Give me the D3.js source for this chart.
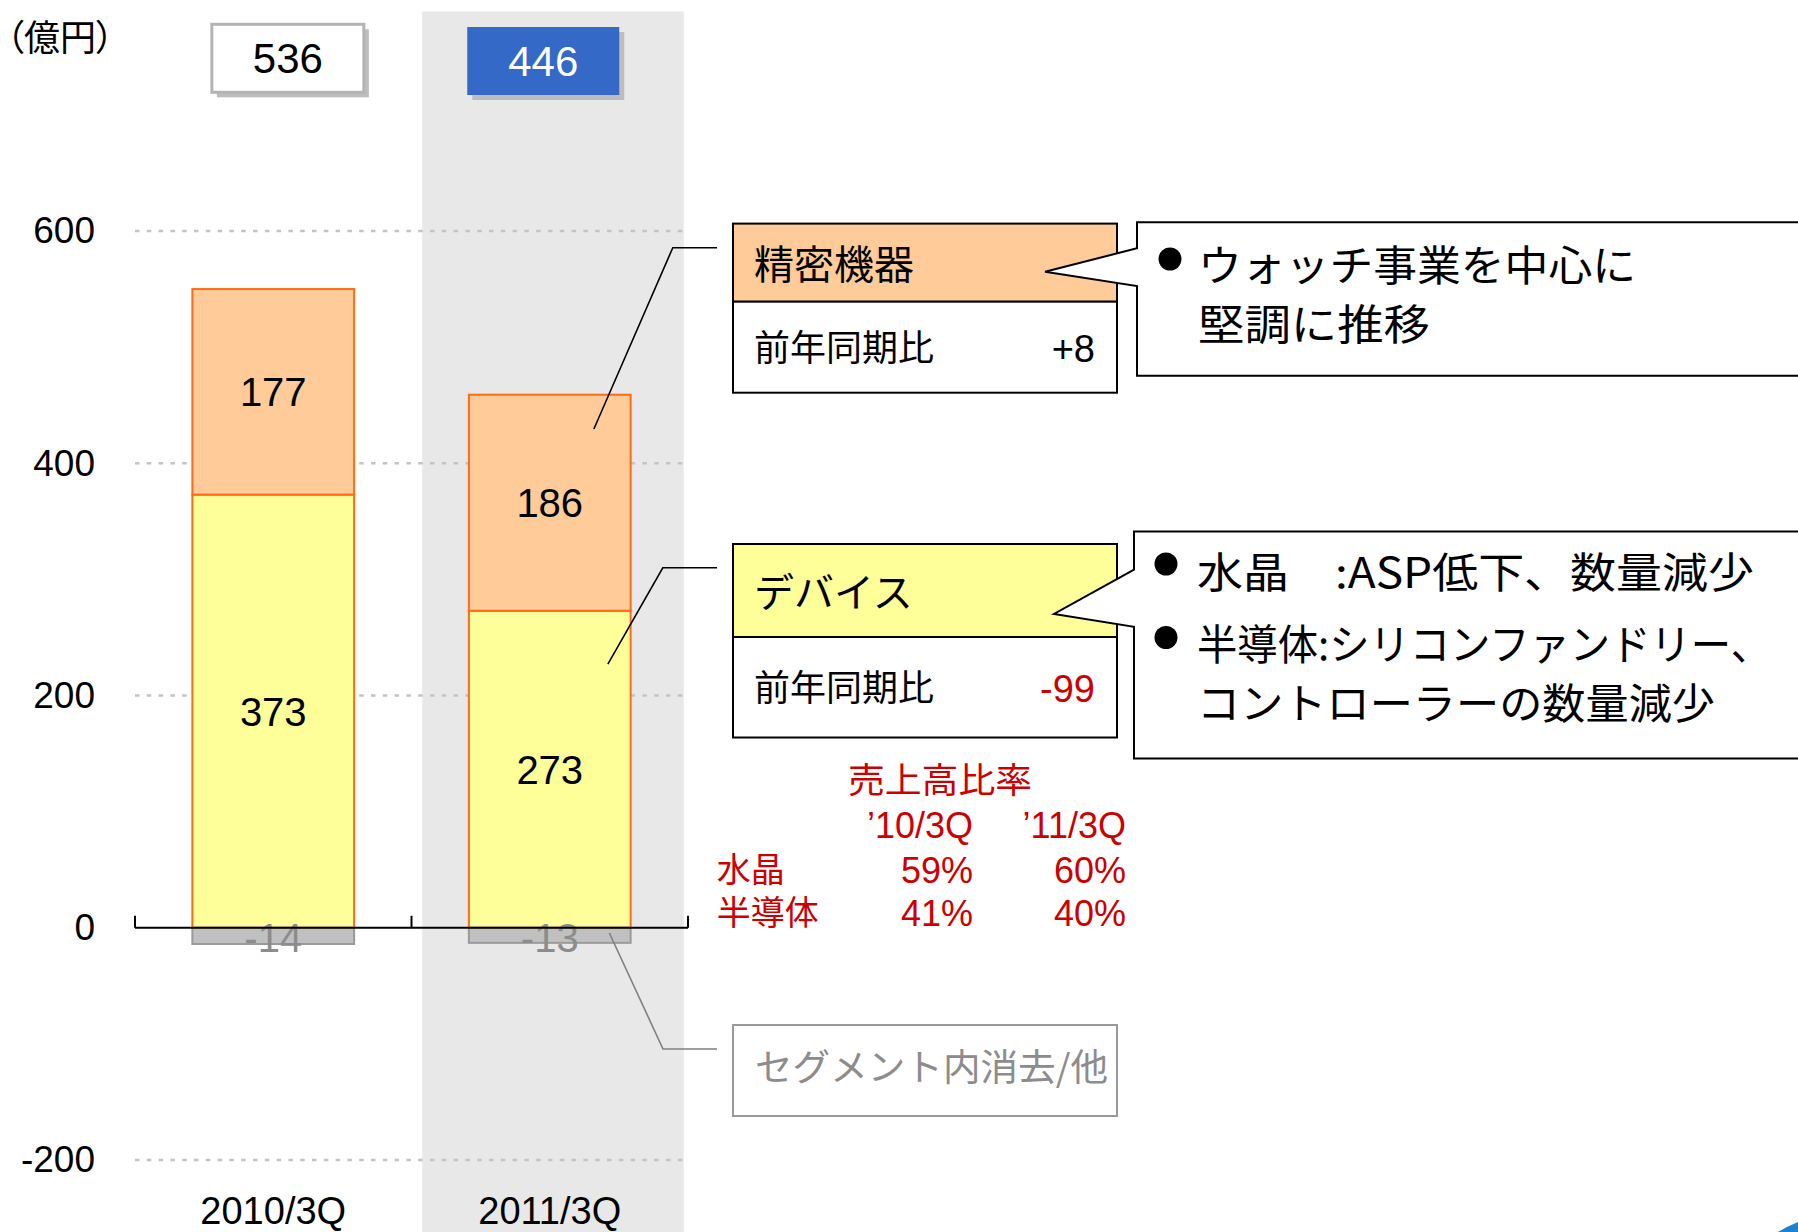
<!DOCTYPE html>
<html><head><meta charset="utf-8">
<script src="https://cdn.jsdelivr.net/npm/d3@7"></script>
<style>
html,body{margin:0;padding:0;background:#fff;}
svg{display:block;}
.num{font-family:"Liberation Sans",Arial,sans-serif;}
.jp{font-family:"Noto Sans CJK JP","Noto Sans",sans-serif;}
</style></head>
<body>
<svg id="chart" width="1798" height="1232"></svg>
<script>
// ---- data ----
const categories = ["2010/3Q", "2011/3Q"];
const deviceValues = [373, 273];
const precisionValues = [177, 186];
const eliminationValues = [-14, -13];
const totalValues = [536, 446];
const yTicks = [-200, 0, 200, 400, 600];
const gridTicks = [-200, 200, 400, 600];
const segmentNames = ["精密機器", "デバイス"];
const yoyLabel = "前年同期比";
const yoyValues = ["+8", "-99"];
const comment1 = ["ウォッチ事業を中心に", "堅調に推移"];
const comment2 = ["水晶　:ASP低下、数量減少", "半導体:シリコンファンドリー、", "コントローラーの数量減少"];
const elimLabel = "セグメント内消去/他";
const ratioTitle = "売上高比率";
const ratioPeriods = ["’10/3Q", "’11/3Q"];
const ratioRows = ["水晶", "半導体"];
const ratioCrystal = ["59%", "60%"];
const ratioSemi = ["41%", "40%"];
const unitLabel = "（億円）";

const svg = d3.select("#chart");
const W = 1798, H = 1232;

const y = d3.scaleLinear().domain([-200, 600]).range([1160, 231]);
const x = d3.scaleBand().domain(categories).range([135, 688]).paddingInner(0.415).paddingOuter(0.2075);
const bw = x.bandwidth();
const cx = c => x(c) + bw / 2;

// highlight band behind 2011/3Q
svg.append("rect").attr("x", cx(categories[1]) - 127.5).attr("y", 11.5)
  .attr("width", 261.5).attr("height", H - 11.5).attr("fill", "#E8E8E8");

// gridlines
svg.append("g").selectAll("line").data(gridTicks).join("line")
  .attr("x1", 135).attr("x2", 685).attr("y1", d => y(d)).attr("y2", d => y(d))
  .attr("stroke", "#C4C4C4").attr("stroke-width", 2.5).attr("stroke-dasharray", "4.5,7.3");

// y axis labels
const yAxis = d3.axisLeft(y).tickValues(yTicks).tickSize(0).tickPadding(0).tickFormat(d => String(d));
const gy = svg.append("g").attr("transform", "translate(95,0)").call(yAxis);
gy.select(".domain").remove();
gy.selectAll("text").attr("class", "num").attr("font-size", 37).attr("fill", "#000")
  .attr("font-family", "Liberation Sans, Arial, sans-serif");

// stacked data
const rows = categories.map((c, i) => ({cat: c, device: deviceValues[i], precision: precisionValues[i], elim: eliminationValues[i]}));
const stack = d3.stack().keys(["device", "precision", "elim"]).offset(d3.stackOffsetDiverging);
const series = stack(rows);
const fills = {device: "#FFFF99", precision: "#FFCC99", elim: "#C0C0C0"};
const strokes = {device: "#FF6A13", precision: "#FF6A13", elim: "#9A9A9A"};

const gBars = svg.append("g");
series.forEach(s => {
  gBars.selectAll(null).data(s).join("rect")
    .attr("x", d => x(d.data.cat)).attr("width", bw)
    .attr("y", d => y(d[1])).attr("height", d => y(d[0]) - y(d[1]))
    .attr("fill", fills[s.key]).attr("stroke", strokes[s.key]).attr("stroke-width", 2);
});
// labels
series.forEach(s => {
  gBars.selectAll(null).data(s).join("text")
    .attr("class", "num").attr("font-size", 40)
    .attr("x", d => cx(d.data.cat))
    .attr("y", d => (y(d[0]) + y(d[1])) / 2 + (s.key === "elim" ? 2 : 0))
    .attr("dy", "0.36em").attr("text-anchor", "middle")
    .attr("fill", s.key === "elim" ? "#8C8C8C" : "#000")
    .text(d => d.data[s.key]);
});

// x axis line with ticks
const y0 = y(0);
const gx = svg.append("g");
gx.append("line").attr("x1", 135).attr("x2", 688).attr("y1", y0).attr("y2", y0).attr("stroke", "#000").attr("stroke-width", 2);
const tickXs = [x.range()[0], x.range()[0] + x.step(), x.range()[1]];
gx.selectAll(null).data(tickXs).join("line")
  .attr("x1", d => d).attr("x2", d => d).attr("y1", y0).attr("y2", y0 - 12)
  .attr("stroke", "#000").attr("stroke-width", 2);
gx.selectAll(null).data(categories).join("text")
  .attr("class", "num").attr("font-size", 38).attr("text-anchor", "middle")
  .attr("x", d => cx(d)).attr("y", 1224).text(d => d);

// unit label
svg.append("text").attr("class", "jp").attr("x", 6).attr("y", 51).attr("font-size", 36)
  .style("font-feature-settings", "'palt'").text(unitLabel);

// total boxes
const boxOffsets = [14.6, -6.5];
const boxTops = [24.3, 27];
categories.forEach((c, i) => {
  const bxc = cx(c) + boxOffsets[i];
  const bx = bxc - 76, by = boxTops[i];
  svg.append("rect").attr("x", bx + 5).attr("y", by + 5).attr("width", 152).attr("height", 68).attr("fill", "#BDBDBD");
  svg.append("rect").attr("x", bx).attr("y", by).attr("width", 152).attr("height", 68)
    .attr("fill", i === 1 ? "#3469C8" : "#fff")
    .attr("stroke", i === 1 ? "#3469C8" : "#B4B4B4").attr("stroke-width", i === 1 ? 0 : 3);
  svg.append("text").attr("class", "num").attr("font-size", 42).attr("text-anchor", "middle")
    .attr("x", bxc).attr("y", by + 34).attr("dy", "0.36em")
    .attr("fill", i === 1 ? "#fff" : "#000").text(totalValues[i]);
});

// connector lines
const c2 = categories[1];
const line = d3.line();
svg.append("path").attr("d", line([[x(c2) + 125, y(429.5)], [672.8, 247.7], [717, 247.7]]))
  .attr("fill", "none").attr("stroke", "#000").attr("stroke-width", 1.6);
svg.append("path").attr("d", line([[x(c2) + 139, y(227)], [662.8, 567.8], [717, 567.8]]))
  .attr("fill", "none").attr("stroke", "#000").attr("stroke-width", 1.6);
svg.append("path").attr("d", line([[x(c2) + 140.5, y(-4.5)], [663, 1049], [717, 1049]]))
  .attr("fill", "none").attr("stroke", "#808080").attr("stroke-width", 1.6);

// segment boxes
const segBoxes = [
  {top: 223.6, mid: 301.7, bot: 392.7, fill: "#FFCC99"},
  {top: 544, mid: 637, bot: 737.5, fill: "#FFFF99"}
];
segBoxes.forEach((b, i) => {
  svg.append("rect").attr("x", 733).attr("y", b.top).attr("width", 384).attr("height", b.mid - b.top)
    .attr("fill", b.fill).attr("stroke", "#000").attr("stroke-width", 2);
  svg.append("rect").attr("x", 733).attr("y", b.mid).attr("width", 384).attr("height", b.bot - b.mid)
    .attr("fill", "#fff").attr("stroke", "#000").attr("stroke-width", 2);
  svg.append("text").attr("class", "jp").attr("font-size", 40).attr("x", 754)
    .attr("y", (b.top + b.mid) / 2 + 2).attr("dy", "0.36em").text(segmentNames[i]);
  svg.append("text").attr("class", "jp").attr("font-size", 36).attr("x", 754)
    .attr("y", (b.mid + b.bot) / 2 + 1).attr("dy", "0.36em").text(yoyLabel);
  svg.append("text").attr("class", "num").attr("font-size", 38).attr("text-anchor", "end")
    .attr("x", 1095).attr("y", (b.mid + b.bot) / 2 + 1).attr("dy", "0.36em")
    .attr("fill", i === 1 ? "#CC0000" : "#000").text(yoyValues[i]);
});

// callouts
function callout(left, top, bottom, tipX, tipY, baseTop, baseBot) {
  const right = W + 20;
  const p = [[left, top], [right, top], [right, bottom], [left, bottom], [left, baseBot], [tipX, tipY], [left, baseTop]];
  svg.append("path").attr("d", d3.line()(p) + "Z").attr("fill", "#fff").attr("stroke", "#000").attr("stroke-width", 2);
}
callout(1137, 222.3, 375.7, 1045, 271.7, 248.3, 286);
callout(1134, 531.5, 758.5, 1054, 614, 569.6, 626.8);

const c1Lens = [438, 232];
const c1Ys = [266, 325];
comment1.forEach((t, i) => {
  svg.append("text").attr("class", "jp").attr("font-size", 42).attr("x", 1198).attr("y", c1Ys[i])
    .attr("dy", "0.36em").attr("textLength", c1Lens[i]).attr("lengthAdjust", "spacingAndGlyphs").text(t);
});
svg.append("circle").attr("cx", 1170).attr("cy", 259).attr("r", 11.5).attr("fill", "#000");

const c2Lens = [557, 574, 518];
const c2Ys = [573, 645, 703.6];
comment2.forEach((t, i) => {
  svg.append("text").attr("class", "jp").attr("font-size", 42).attr("x", 1197).attr("y", c2Ys[i])
    .attr("dy", "0.36em").attr("textLength", c2Lens[i]).attr("lengthAdjust", "spacingAndGlyphs").text(t);
});
[564, 637.5].forEach(cy => svg.append("circle").attr("cx", 1166).attr("cy", cy).attr("r", 11.5).attr("fill", "#000"));

// elimination box
svg.append("rect").attr("x", 733).attr("y", 1025).attr("width", 384).attr("height", 91)
  .attr("fill", "#fff").attr("stroke", "#999").attr("stroke-width", 2);
svg.append("text").attr("class", "jp").attr("font-size", 37).attr("x", 755).attr("y", 1068)
  .attr("dy", "0.36em").attr("fill", "#8C8C8C").attr("textLength", 353).attr("lengthAdjust", "spacingAndGlyphs").text(elimLabel);

// ratio table
const red = "#CC0000";
svg.append("text").attr("class", "jp").attr("font-size", 35).attr("fill", red)
  .attr("x", 848).attr("y", 780).attr("dy", "0.36em").attr("textLength", 184).attr("lengthAdjust", "spacingAndGlyphs").text(ratioTitle);
const colRight = [973, 1126];
ratioPeriods.forEach((t, i) => {
  svg.append("text").attr("class", "num").attr("font-size", 36).attr("fill", red).attr("text-anchor", "end")
    .attr("x", colRight[i]).attr("y", 825).attr("dy", "0.36em").text(t);
});
const rowYs = [870, 913];
ratioRows.forEach((t, r) => {
  svg.append("text").attr("class", "jp").attr("font-size", 34).attr("fill", red)
    .attr("x", 716.7).attr("y", rowYs[r]).attr("dy", "0.34em").text(t);
  const vals = r === 0 ? ratioCrystal : ratioSemi;
  vals.forEach((v, i) => {
    svg.append("text").attr("class", "num").attr("font-size", 36).attr("fill", red).attr("text-anchor", "end")
      .attr("x", colRight[i]).attr("y", rowYs[r]).attr("dy", "0.36em").text(v);
  });
});

// corner decoration
svg.append("path").attr("d", "M1778,1232 Q1788,1226 1798,1222 L1798,1232 Z").attr("fill", "#1B82CF");
</script>
</body></html>
